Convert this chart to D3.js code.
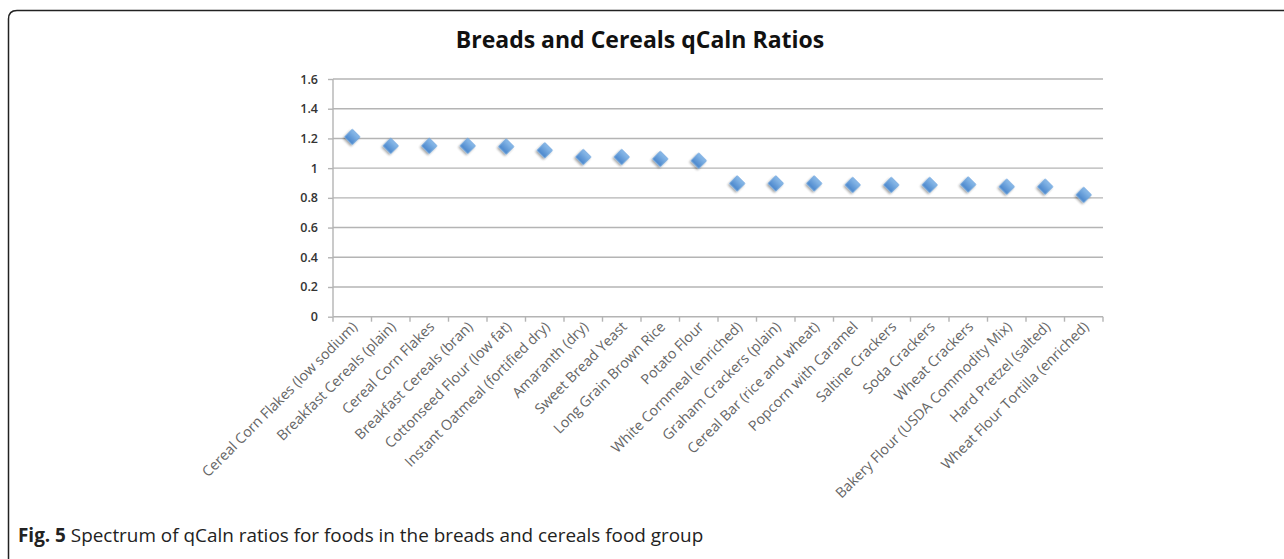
<!DOCTYPE html>
<html><head><meta charset="utf-8">
<script src="https://cdn.jsdelivr.net/npm/d3@7/dist/d3.min.js"></script>
<style>body{margin:0;background:#fff}svg{display:block}</style>
</head><body>
<svg id="c" width="1284" height="559"></svg>
<script>
const categories = ["Cereal Corn Flakes (low sodium)","Breakfast Cereals (plain)","Cereal Corn Flakes","Breakfast Cereals (bran)","Cottonseed Flour (low fat)","Instant Oatmeal (fortified dry)","Amaranth (dry)","Sweet Bread Yeast","Long Grain Brown Rice","Potato Flour","White Cornmeal (enriched)","Graham Crackers (plain)","Cereal Bar (rice and wheat)","Popcorn with Caramel","Saltine Crackers","Soda Crackers","Wheat Crackers","Bakery Flour (USDA Commodity Mix)","Hard Pretzel (salted)","Wheat Flour Tortilla (enriched)"];
const values = [1.21,1.15,1.15,1.15,1.145,1.12,1.075,1.075,1.062,1.05,0.897,0.897,0.897,0.887,0.887,0.887,0.89,0.875,0.875,0.82];
const yTicks = [0,0.2,0.4,0.6,0.8,1,1.2,1.4,1.6];
const yTickLabels = ["0","0.2","0.4","0.6","0.8","1","1.2","1.4","1.6"];
const title = "Breads and Cereals qCaln Ratios";

const svg = d3.select("#c");
const defs = svg.append("defs");
const g1 = defs.append("linearGradient").attr("id","dg").attr("x1","0").attr("y1","0").attr("x2","0").attr("y2","1");
g1.append("stop").attr("offset","0").attr("stop-color","#8cbcea");
g1.append("stop").attr("offset","1").attr("stop-color","#4a86cc");
const f = defs.append("filter").attr("id","sh").attr("x","-50%").attr("y","-50%").attr("width","200%").attr("height","200%");
f.append("feDropShadow").attr("dx",0).attr("dy",2).attr("stdDeviation",1.3).attr("flood-color","#000").attr("flood-opacity",0.35);

// frame
svg.append("path").attr("d","M8.5,560 L8.5,19 Q8.5,10.5 17,10.5 L1290,10.5")
  .attr("fill","none").attr("stroke","#222").attr("stroke-width",1.5);

const L=333, R=1103, T=79, B=316.7;
const x = d3.scaleBand().domain(categories).range([L,R]).paddingInner(0).paddingOuter(0);
const y = d3.scaleLinear().domain([0,1.6]).range([B,T]);

// gridlines
svg.append("g").selectAll("line").data(yTicks.filter(d=>d>0)).join("line")
  .attr("x1",L).attr("x2",R).attr("y1",d=>y(d)).attr("y2",d=>y(d))
  .attr("stroke","#b4b4b4").attr("stroke-width",1.4);

// y axis
const ya = svg.append("g").attr("transform",`translate(${L},0)`)
  .call(d3.axisLeft(y).tickValues(yTicks).tickFormat((d,i)=>yTickLabels[i]).tickSize(5).tickPadding(10));
ya.select(".domain").attr("stroke","#b4b4b4").attr("stroke-width",1.4).attr("d",`M0,${B}V${T}`);
ya.selectAll(".tick line").attr("stroke","#b4b4b4").attr("stroke-width",1.4);
ya.selectAll(".tick text").attr("fill","#333").attr("font-family","Open Sans, sans-serif").attr("font-size",12.5).attr("font-weight",600);

// x axis
const xa = svg.append("g").attr("transform",`translate(0,${B})`)
  .call(d3.axisBottom(x).tickSize(0).tickFormat(""));
xa.select(".domain").attr("stroke","#b4b4b4").attr("stroke-width",1.4).attr("d",`M${L},0H${R}`);
const tickPos = categories.map(c=>x(c)).concat([R]);
xa.append("g").selectAll("line").data(tickPos).join("line")
  .attr("x1",d=>d).attr("x2",d=>d).attr("y1",0).attr("y2",5)
  .attr("stroke","#b4b4b4").attr("stroke-width",1.4);

// x labels
svg.append("g").selectAll("text").data(categories).join("text")
  .attr("transform",d=>`translate(${x(d)+x.bandwidth()/2+6},${B+11}) rotate(-45)`)
  .attr("text-anchor","end").attr("fill","#666")
  .attr("font-family","Open Sans, sans-serif").attr("font-size",14.3)
  .text(d=>d);

// points
const sym = d3.symbol().type(d3.symbolSquare).size(115);
svg.append("g").selectAll("path").data(values).join("path")
  .attr("d",sym)
  .attr("transform",(d,i)=>`translate(${x(categories[i])+x.bandwidth()/2},${y(d)}) rotate(45)`)
  .attr("fill","url(#dg)").attr("stroke","#6aa2dc").attr("stroke-width",0.8)
  .attr("filter","url(#sh)");

// title
svg.append("text").attr("x",640).attr("y",48).attr("text-anchor","middle")
  .attr("font-family","Open Sans, sans-serif").attr("font-weight",700).attr("font-size",23)
  .attr("fill","#111").text(title);

// caption
const cap = svg.append("text").attr("x",18).attr("y",542)
  .attr("font-family","Open Sans, sans-serif").attr("font-size",18.9).attr("fill","#222");
cap.append("tspan").attr("font-weight",700).text("Fig. 5");
cap.append("tspan").text(" Spectrum of qCaln ratios for foods in the breads and cereals food group");
</script>
</body></html>
